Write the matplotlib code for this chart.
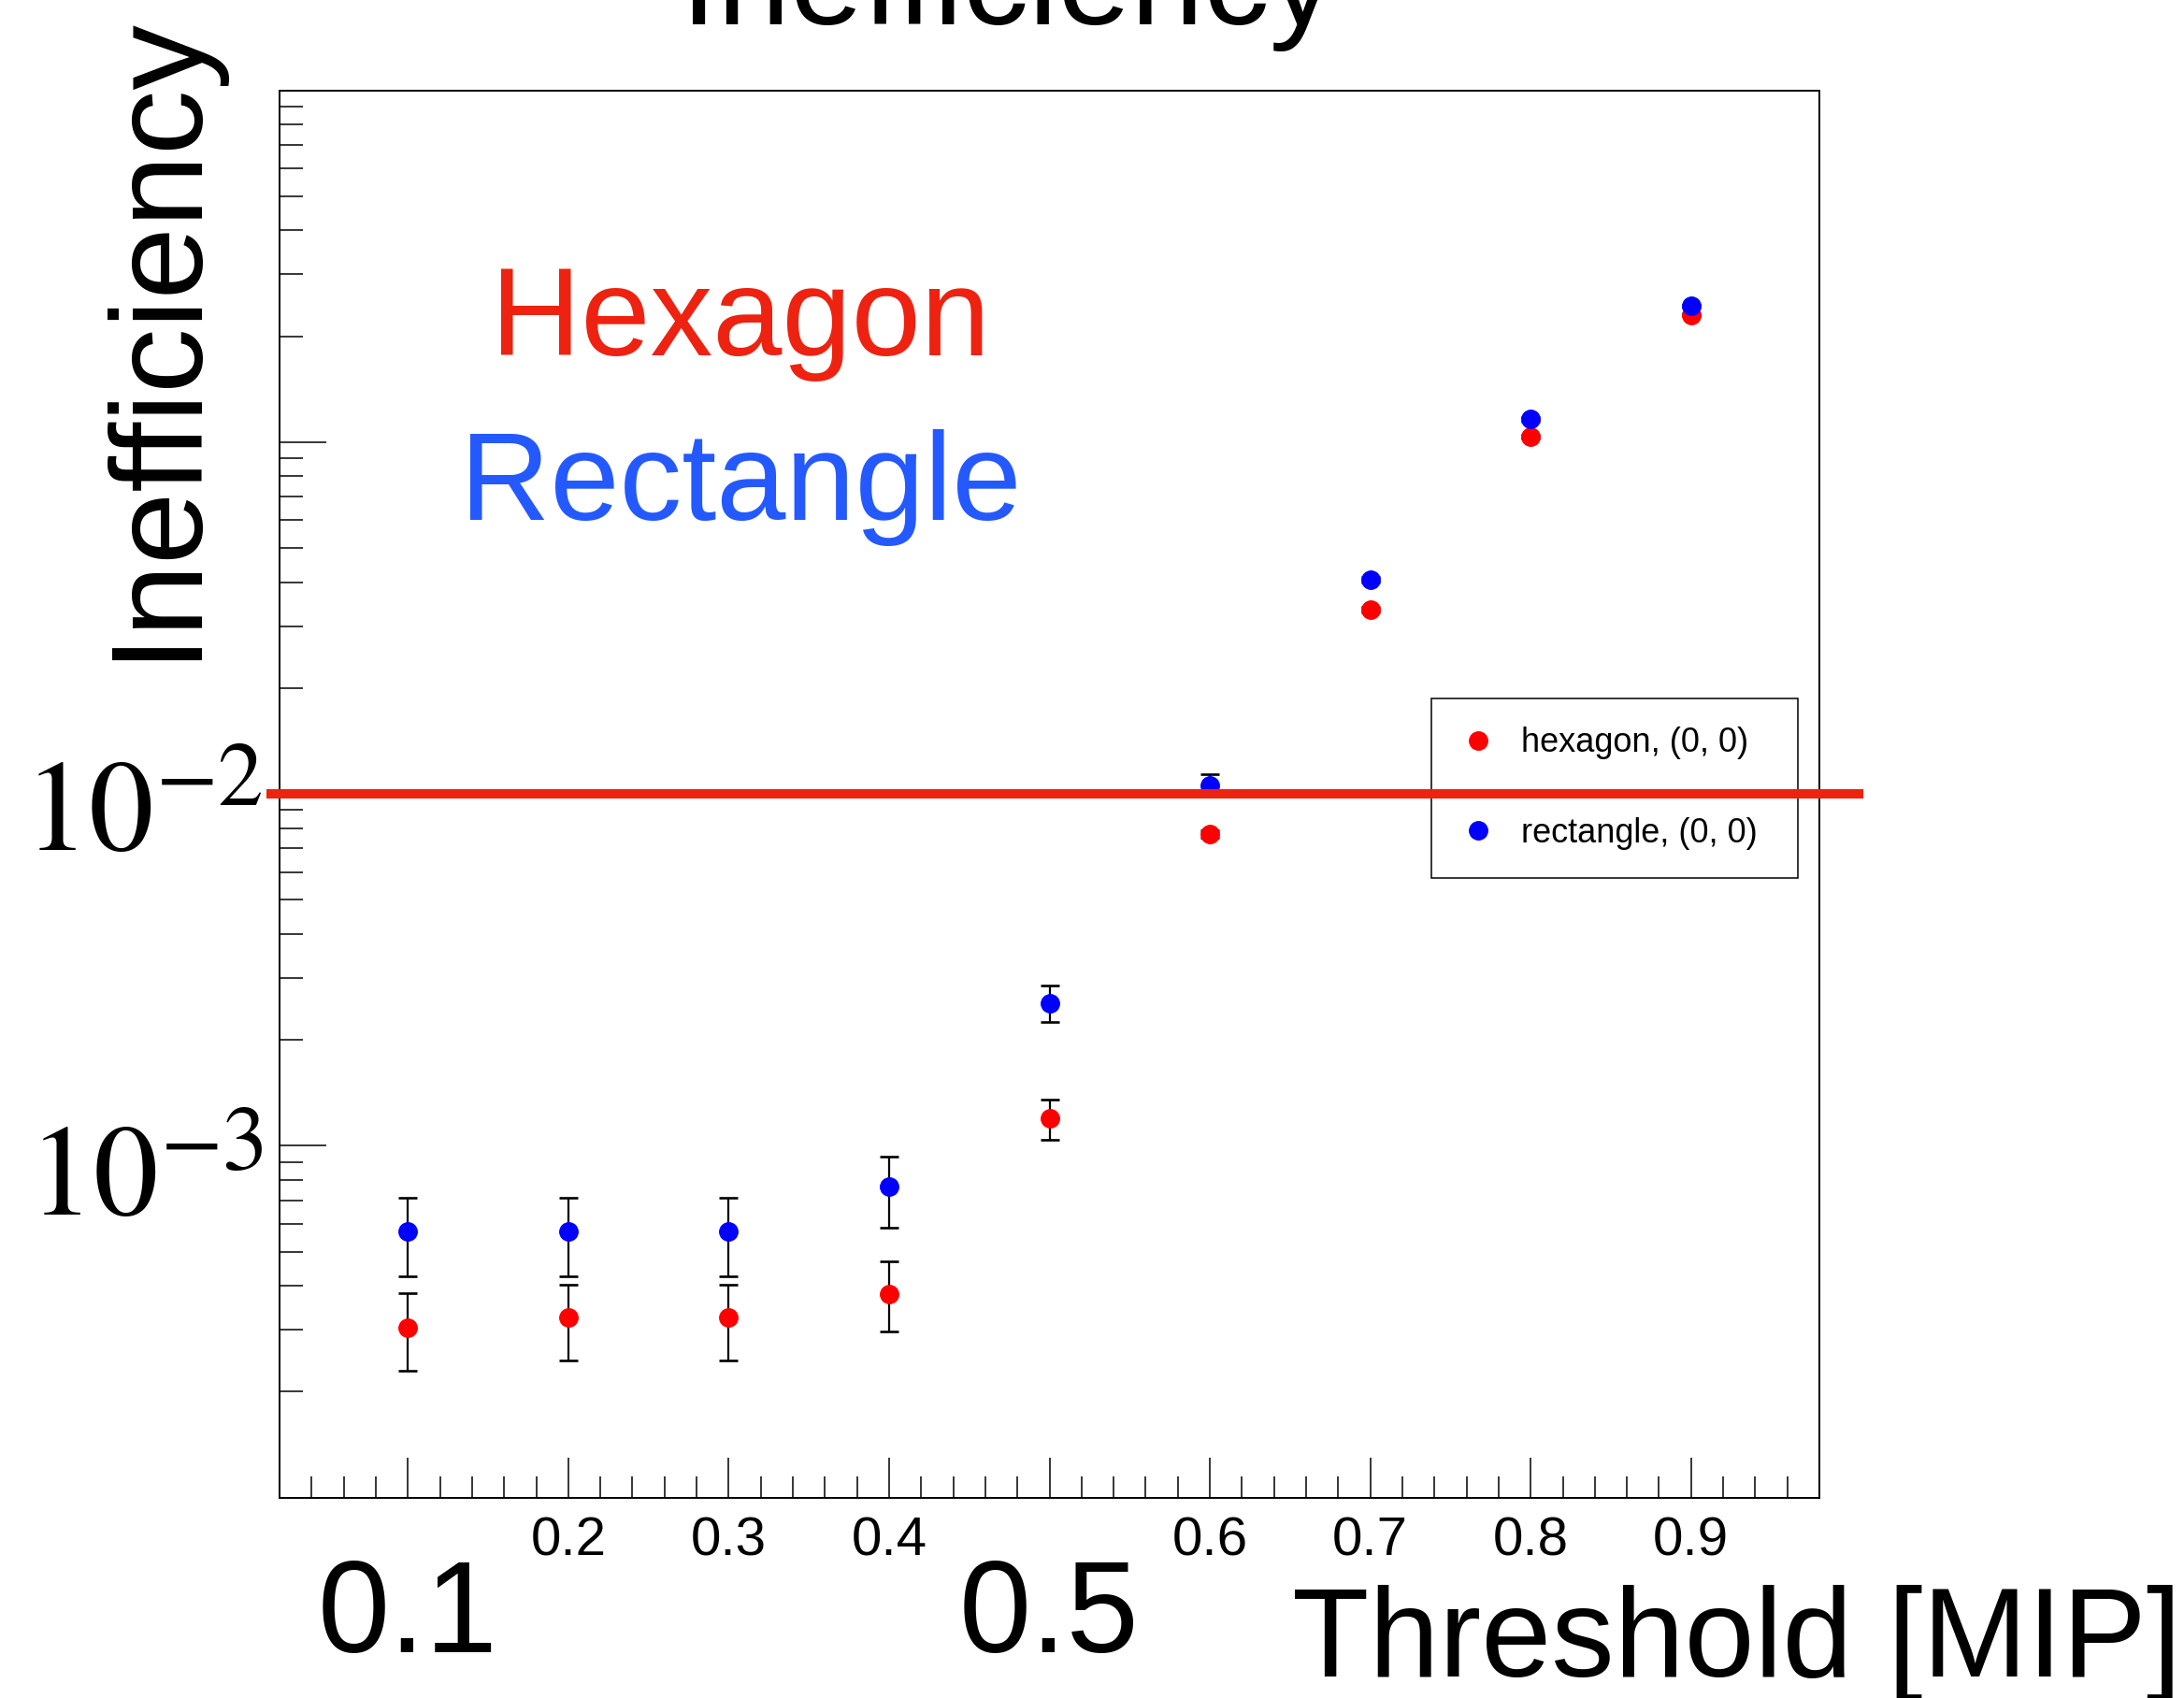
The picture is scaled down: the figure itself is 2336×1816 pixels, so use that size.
import matplotlib
matplotlib.use("Agg")
import matplotlib.pyplot as plt
import matplotlib.transforms as mtransforms
from matplotlib.lines import Line2D
from matplotlib.ticker import FixedLocator, FixedFormatter, LogLocator, NullFormatter, MultipleLocator

# ---------------- data ----------------
thresholds = [0.1, 0.2, 0.3, 0.4, 0.5, 0.6, 0.7, 0.8, 0.9]

hex_ineff = [3.04e-4, 3.26e-4, 3.26e-4, 3.80e-4, 1.20e-3, 7.69e-3, 0.0334, 0.1037, 0.2303]
hex_err_lo = [0.745e-4, 0.80e-4, 0.80e-4, 0.84e-4, 1.57e-4, 2.0e-4, 6.0e-4, 1.2e-3, 1.9e-3]
hex_err_hi = [0.77e-4, 0.77e-4, 0.77e-4, 0.89e-4, 1.57e-4, 2.0e-4, 6.0e-4, 1.2e-3, 1.9e-3]

rect_ineff = [5.70e-4, 5.70e-4, 5.70e-4, 7.64e-4, 2.545e-3, 0.01061, 0.04064, 0.1162, 0.2441]
rect_err_lo = [1.45e-4, 1.45e-4, 1.45e-4, 1.79e-4, 3.0e-4, 8.0e-4, 8.0e-4, 1.5e-3, 2.2e-3]
rect_err_hi = [1.43e-4, 1.43e-4, 1.43e-4, 1.65e-4, 3.1e-4, 8.0e-4, 8.0e-4, 1.5e-3, 2.2e-3]

legend_labels = ["hexagon, (0, 0)", "rectangle, (0, 0)"]
x_major_ticks = [0.1, 0.2, 0.3, 0.4, 0.5, 0.6, 0.7, 0.8, 0.9]
x_small_labels = ["", "0.2", "0.3", "0.4", "", "0.6", "0.7", "0.8", "0.9"]
x_big_ticks = [0.1, 0.5]
x_big_labels = ["0.1", "0.5"]
y_major_ticks = [1e-4, 1e-3, 1e-2, 1e-1, 1.0]
y_label_ticks = [1e-3, 1e-2]
y_label_texts = [r"$10^{-3}$", r"$10^{-2}$"]
threshold_line = 0.01

# ---------------- style ----------------
plt.rcParams["font.family"] = ["Liberation Sans", "DejaVu Sans"]
plt.rcParams["mathtext.fontset"] = "stix"

W, H = 2336, 1816
fig = plt.figure(figsize=(W / 100, H / 100), dpi=100)
fig.patch.set_facecolor("white")

ax_left, ax_right, ax_top, ax_bottom = 299, 1946, 96.7, 1601.7
ax = fig.add_axes([ax_left / W, 1 - ax_bottom / H, (ax_right - ax_left) / W, (ax_bottom - ax_top) / H])

ax.set_xlim(0.02, 0.98)
ax.set_yscale("log")
ax.set_ylim(1e-4, 1.0)

for s in ax.spines.values():
    s.set_linewidth(1.4)
    s.set_color("black")

ax.xaxis.set_major_locator(FixedLocator(x_major_ticks))
ax.xaxis.set_major_formatter(FixedFormatter(x_small_labels))
ax.xaxis.set_minor_locator(MultipleLocator(0.02))
ax.yaxis.set_major_locator(FixedLocator(y_major_ticks))
ax.yaxis.set_major_formatter(NullFormatter())
ax.yaxis.set_minor_locator(LogLocator(base=10, subs=range(2, 10), numticks=30))
ax.yaxis.set_minor_formatter(NullFormatter())

ax.tick_params(axis="x", which="major", direction="in", length=31, width=1.1,
               top=False, labelsize=42, pad=14)
ax.tick_params(axis="x", which="minor", direction="in", length=16.5, width=1.1, top=False)
ax.tick_params(axis="y", which="major", direction="in", length=36, width=1.1, right=False)
ax.tick_params(axis="y", which="minor", direction="in", length=18, width=1.1, right=False)

# y tick labels (big serif powers of ten), baseline offsets in pixels below tick
trans_ylab = mtransforms.blended_transform_factory(fig.transFigure, ax.transData)
ylab_baseline_offsets = [75, 62]
for yv, lab, off in zip(y_label_ticks, y_label_texts, ylab_baseline_offsets):
    ax.text(281 / W, yv, lab, ha="right", va="baseline", fontsize=100, clip_on=False,
            transform=trans_ylab + mtransforms.ScaledTranslation(0, -off / 100, fig.dpi_scale_trans))

# ---------------- data marks ----------------
hex_color = "#FF0000"
rect_color = "#0000FF"
ax.errorbar(thresholds, hex_ineff, yerr=[hex_err_lo, hex_err_hi], fmt="o",
            color=hex_color, markersize=14, ecolor="black", elinewidth=1.6,
            capsize=7, capthick=1.9, zorder=3)
ax.errorbar(thresholds, rect_ineff, yerr=[rect_err_lo, rect_err_hi], fmt="o",
            color=rect_color, markersize=14, ecolor="black", elinewidth=1.6,
            capsize=7, capthick=1.9, zorder=3)

# legend
handles = [Line2D([], [], marker="o", ls="none", color=hex_color, markersize=14),
           Line2D([], [], marker="o", ls="none", color=rect_color, markersize=14)]
leg = ax.legend(handles, legend_labels, loc="upper left",
                bbox_to_anchor=(1531 / W, 1 - 937.3 / H, (1923.3 - 1531) / W, (937.3 - 747.3) / H),
                bbox_transform=fig.transFigure, mode="expand",
                borderaxespad=0, fontsize=26, frameon=True, fancybox=False,
                framealpha=1, edgecolor="black", borderpad=0.83, handlelength=1.1,
                handletextpad=0.72, labelspacing=1.71)
leg.get_frame().set_linewidth(1.1)
leg.set_zorder(5)

# threshold red line extending beyond axes
trans_line = mtransforms.blended_transform_factory(fig.transFigure, ax.transData)
ax.plot([285 / W, 1993 / W], [threshold_line, threshold_line], color="#EE2211",
        lw=7.2, transform=trans_line, clip_on=False, zorder=10, solid_capstyle="butt")

# big x labels at 0.1 and 0.5
trans_big = mtransforms.blended_transform_factory(ax.transData, fig.transFigure)
for xv, lab in zip(x_big_ticks, x_big_labels):
    ax.text(xv, 1 - 1767 / H, lab, transform=trans_big, ha="center", va="baseline",
            fontsize=100, clip_on=False)

# axis title texts
fig.text(2333 / W, 1 - 1793 / H, "Threshold [MIP]", ha="right", va="baseline", fontsize=97)
fig.text(204 / W, 1 - 359 / H, "Inefficiency", rotation=90, rotation_mode="anchor",
         ha="center", va="baseline", fontsize=100)
fig.text(1078 / W, 1 - 26 / H, "Inefficiency", ha="center", va="baseline", fontsize=101)

# annotations
ax.text(792 / W, 1 - 380 / H, "Hexagon", transform=fig.transFigure, ha="center",
        va="baseline", fontsize=96, color="#EE2211")
ax.text(792 / W, 1 - 556 / H, "Rectangle", transform=fig.transFigure, ha="center",
        va="baseline", fontsize=96, color="#2459FF")

fig.savefig("out.png", dpi=100, facecolor="white")
